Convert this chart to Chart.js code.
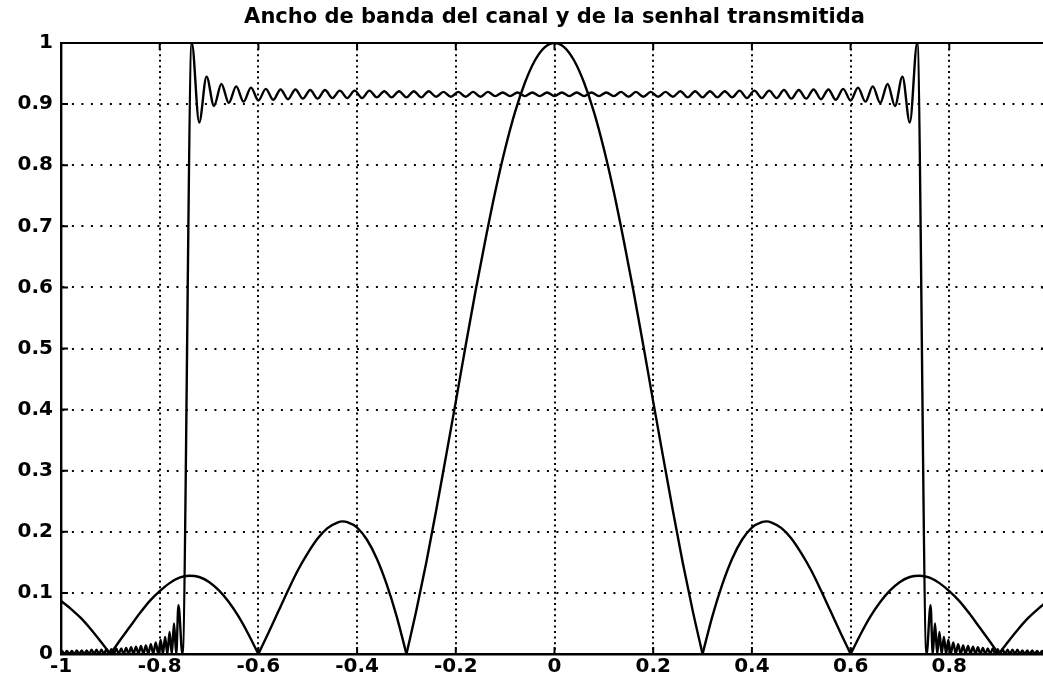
<!DOCTYPE html>
<html><head><meta charset="utf-8">
<script src="https://cdn.jsdelivr.net/npm/chart.js@4/dist/chart.umd.min.js"></script>
<style>html,body{margin:0;padding:0;background:#fff;overflow:hidden;width:1043px;height:684px}canvas{display:block}</style>
</head><body>
<canvas id="c" width="1080" height="684"></canvas>
<script>
const TITLE = 'Ancho de banda del canal y de la senhal transmitida';
const xTickLabels = ['-1','-0.8','-0.6','-0.4','-0.2','0','0.2','0.4','0.6','0.8','1'];
const yTickLabels = ['0','0.1','0.2','0.3','0.4','0.5','0.6','0.7','0.8','0.9','1'];

// Signal spectrum magnitude (sinc-like curve)
const sincX = [-1,-0.98,-0.96,-0.94,-0.92,-0.9,-0.88,-0.86,-0.84,-0.82,-0.8,-0.78,-0.76,-0.74,-0.72,-0.7,-0.68,-0.66,-0.64,-0.62,-0.6,-0.58,-0.56,-0.54,-0.52,-0.5,-0.48,-0.46,-0.44,-0.43,-0.42,-0.4,-0.38,-0.36,-0.34,-0.32,-0.3,-0.28,-0.26,-0.24,-0.22,-0.2,-0.18,-0.16,-0.14,-0.12,-0.1,-0.08,-0.06,-0.04,-0.02,0,
  0.02,0.04,0.06,0.08,0.1,0.12,0.14,0.16,0.18,0.2,0.22,0.24,0.26,0.28,0.3,0.32,0.34,0.36,0.38,0.4,0.42,0.43,0.44,0.46,0.48,0.5,0.52,0.54,0.56,0.58,0.6,0.62,0.64,0.66,0.68,0.7,0.72,0.74,0.76,0.78,0.8,0.82,0.84,0.86,0.88,0.9,0.92,0.94,0.96,0.98,1];
const sincY = [0.087,0.074,0.059,0.041,0.021,0,0.023,0.045,0.067,0.087,0.103,0.116,0.125,0.128,0.126,0.118,0.104,0.085,0.061,0.032,0,0.034,0.069,0.104,0.137,0.165,0.189,0.206,0.215,0.217,0.216,0.207,0.187,0.156,0.114,0.062,0,0.071,0.149,0.234,0.323,0.413,0.505,0.594,0.678,0.757,0.827,0.887,0.935,0.971,0.993,1,
  0.993,0.971,0.935,0.887,0.827,0.757,0.678,0.594,0.505,0.413,0.323,0.234,0.149,0.071,0,0.062,0.114,0.156,0.187,0.207,0.216,0.217,0.215,0.206,0.189,0.165,0.137,0.104,0.069,0.034,0,0.032,0.061,0.085,0.104,0.118,0.126,0.128,0.125,0.116,0.103,0.087,0.067,0.045,0.023,0,0.021,0.041,0.059,0.074,0.087];

// Channel response magnitude (band-limited with ripple)
const filterX = [
  -1,-0.998,-0.993,-0.988,-0.983,-0.978,-0.973,-0.968,-0.963,-0.958,-0.953,-0.948,-0.943,-0.938,-0.933,-0.928,-0.923,-0.918,-0.913,-0.908,-0.903,-0.898,-0.893,-0.888,-0.883,-0.878,-0.873,-0.868,-0.863,-0.858,-0.853,-0.848,-0.843,-0.838,-0.833,-0.828,-0.823,-0.818,-0.813,-0.808,-0.803,-0.798,-0.7935,-0.789,-0.7845,-0.78,-0.7755,-0.771,-0.7665,-0.762,-0.754,
  -0.735,-0.72,-0.705,-0.69,-0.675,-0.66,-0.645,-0.63,-0.615,-0.6,-0.585,-0.57,-0.555,-0.54,-0.525,-0.51,-0.495,-0.48,-0.465,-0.45,-0.435,-0.42,-0.405,-0.39,-0.375,-0.36,-0.345,-0.33,-0.315,-0.3,-0.285,-0.27,-0.255,-0.24,-0.225,-0.21,-0.195,-0.18,-0.165,-0.15,-0.135,-0.12,-0.105,-0.09,-0.075,-0.06,-0.045,-0.03,-0.015,0,
  0.015,0.03,0.045,0.06,0.075,0.09,0.105,0.12,0.135,0.15,0.165,0.18,0.195,0.21,0.225,0.24,0.255,0.27,0.285,0.3,0.315,0.33,0.345,0.36,0.375,0.39,0.405,0.42,0.435,0.45,0.465,0.48,0.495,0.51,0.525,0.54,0.555,0.57,0.585,0.6,0.615,0.63,0.645,0.66,0.675,0.69,0.705,0.72,0.735,
  0.754,0.762,0.7665,0.771,0.7755,0.78,0.7845,0.789,0.7935,0.798,0.803,0.808,0.813,0.818,0.823,0.828,0.833,0.838,0.843,0.848,0.853,0.858,0.863,0.868,0.873,0.878,0.883,0.888,0.893,0.898,0.903,0.908,0.913,0.918,0.923,0.928,0.933,0.938,0.943,0.948,0.953,0.958,0.963,0.968,0.973,0.978,0.983,0.988,0.993,0.998,1];
const filterY = [
  0.004,0.005,0,0.005,0,0.005,0,0.006,0,0.006,0,0.006,0,0.007,0,0.007,0,0.007,0,0.008,0,0.008,0,0.009,0,0.009,0,0.010,0,0.011,0,0.012,0,0.013,0,0.014,0,0.016,0,0.019,0,0.023,0,0.028,0,0.036,0,0.050,0,0.080,0,
  1.000,0.870,0.945,0.897,0.933,0.902,0.929,0.904,0.927,0.906,0.925,0.907,0.924,0.908,0.924,0.909,0.923,0.909,0.923,0.910,0.922,0.910,0.922,0.910,0.922,0.911,0.921,0.911,0.921,0.911,0.921,0.911,0.921,0.912,0.920,0.912,0.920,0.912,0.920,0.912,0.920,0.913,0.919,0.913,0.919,0.913,0.919,0.913,0.919,0.913,
  0.919,0.913,0.919,0.913,0.919,0.913,0.919,0.913,0.920,0.912,0.920,0.912,0.920,0.912,0.920,0.912,0.921,0.911,0.921,0.911,0.921,0.911,0.921,0.911,0.922,0.910,0.922,0.910,0.922,0.910,0.923,0.909,0.923,0.909,0.924,0.908,0.924,0.907,0.925,0.906,0.927,0.904,0.929,0.902,0.933,0.897,0.945,0.870,1.000,
  0,0.080,0,0.050,0,0.036,0,0.028,0,0.023,0,0.019,0,0.016,0,0.014,0,0.013,0,0.012,0,0.011,0,0.010,0,0.009,0,0.009,0,0.008,0,0.008,0,0.007,0,0.007,0,0.007,0,0.006,0,0.006,0,0.006,0,0.005,0,0.005,0,0.005,0.004];

// split the sinc curve into lobes at its zeros so each lobe is smooth and the zeros stay sharp
function lobes(xs, ys) {
  const out = [];
  let cur = [];
  xs.forEach((x, i) => {
    cur.push({x: x, y: ys[i]});
    if (ys[i] === 0 && cur.length > 1) { out.push(cur); cur = [{x: x, y: ys[i]}]; }
  });
  if (cur.length > 1) out.push(cur);
  return out;
}

const framePlugin = {
  id: 'frame',
  afterDraw(chart) {
    const {ctx, chartArea: a, scales} = chart;
    const xs = scales.x, ys = scales.y;
    const L = 7;
    ctx.save();
    ctx.strokeStyle = '#000';
    ctx.lineWidth = 2;
    ctx.beginPath();
    ctx.moveTo(a.left, a.top); ctx.lineTo(a.right, a.top);
    ctx.moveTo(a.right, a.top); ctx.lineTo(a.right, a.bottom);
    xs.ticks.forEach((t, i) => {
      const p = xs.getPixelForTick(i);
      ctx.moveTo(p, a.top); ctx.lineTo(p, a.top + L);
      ctx.moveTo(p, a.bottom); ctx.lineTo(p, a.bottom - L);
    });
    ys.ticks.forEach((t, i) => {
      const p = ys.getPixelForTick(i);
      ctx.moveTo(a.left, p); ctx.lineTo(a.left + L, p);
      ctx.moveTo(a.right, p); ctx.lineTo(a.right - L, p);
    });
    ctx.stroke();
    ctx.restore();
  }
};

const tickFont = {family: 'DejaVu Sans', size: 20, weight: 'bold'};
const LW = 2.4;

const datasets = lobes(sincX, sincY).map((pts, k) => ({
  label: 'senhal ' + k,
  data: pts,
  borderColor: '#000', borderWidth: LW, pointRadius: 0, cubicInterpolationMode: 'monotone', fill: false
}));
datasets.push({
  label: 'canal',
  data: filterX.map((x, i) => ({x: x, y: filterY[i]})),
  borderColor: '#000', borderWidth: LW, pointRadius: 0, cubicInterpolationMode: 'monotone', fill: false
});

new Chart(document.getElementById('c'), {
  type: 'line',
  data: {datasets: datasets},
  options: {
    responsive: false,
    animation: false,
    devicePixelRatio: 1,
    events: [],
    layout: {padding: {left: 0, right: 32, top: 0, bottom: 0}},
    plugins: {
      legend: {display: false},
      tooltip: {enabled: false},
      title: {
        display: true, text: TITLE, fullSize: false, color: '#000',
        font: {family: 'DejaVu Sans', size: 21, weight: 'bold'},
        padding: {top: 5, bottom: 12.8}
      }
    },
    scales: {
      x: {
        type: 'linear', min: -1, max: 1,
        ticks: {stepSize: 0.2, autoSkip: false, maxRotation: 0, minRotation: 0, padding: 1, color: '#000', font: tickFont,
          callback: (v, i) => xTickLabels[i]},
        grid: {color: '#000', lineWidth: 2, drawTicks: false},
        border: {display: true, color: '#000', width: 2.4, dash: [2, 3.6]},
        afterFit: s => { s.height = 30; }
      },
      y: {
        type: 'linear', min: 0, max: 1,
        ticks: {stepSize: 0.1, autoSkip: false, padding: 8, color: '#000', font: tickFont,
          callback: (v, i) => yTickLabels[i]},
        grid: {color: '#000', lineWidth: 2, drawTicks: false},
        border: {display: true, color: '#000', width: 2.4, dash: [2, 7.5]},
        afterFit: s => { s.width = 61; }
      }
    }
  },
  plugins: [framePlugin]
});
</script>
</body></html>
